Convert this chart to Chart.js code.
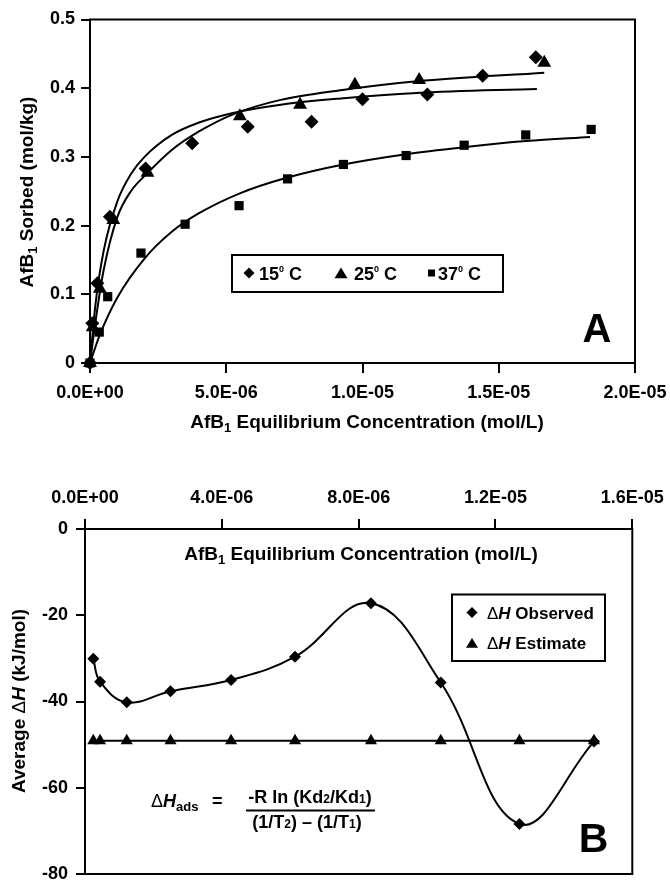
<!DOCTYPE html>
<html>
<head>
<meta charset="utf-8">
<script src="https://cdn.jsdelivr.net/npm/chart.js@4.4.1/dist/chart.umd.min.js"></script>
<style>
  html, body { margin: 0; padding: 0; background: #fff; overflow: hidden; }
  body { width: 670px; height: 880px; position: relative; }
  canvas { position: absolute; left: 0; }
  #chartA { top: 0; }
  #chartB { top: 440px; }
</style>
</head>
<body>
<canvas id="chartA" width="670" height="440"></canvas>
<canvas id="chartB" width="670" height="450"></canvas>
<script>
// ---- Panel A: sorption isotherms ----
const concA15 = [0, 0.085e-6, 0.27e-6, 0.73e-6, 2.04e-6, 3.75e-6, 5.79e-6, 8.13e-6, 1.00e-5, 1.238e-5, 1.441e-5, 1.636e-5];
const sorbA15 = [0, 0.058, 0.116, 0.213, 0.283, 0.320, 0.344, 0.351, 0.384, 0.391, 0.418, 0.445];
const concA25 = [0, 0.10e-6, 0.36e-6, 0.855e-6, 2.11e-6, 5.5e-6, 7.71e-6, 9.72e-6, 1.208e-5, 1.667e-5];
const sorbA25 = [0, 0.052, 0.108, 0.208, 0.277, 0.359, 0.376, 0.405, 0.412, 0.437];
const concA37 = [0, 0.34e-6, 0.65e-6, 1.87e-6, 3.49e-6, 5.47e-6, 7.25e-6, 9.3e-6, 1.16e-5, 1.373e-5, 1.599e-5, 1.839e-5];
const sorbA37 = [0, 0.045, 0.0965, 0.160, 0.202, 0.229, 0.268, 0.289, 0.302, 0.317, 0.332, 0.340];

// fitted curves
const fitConc15 = [0, 0.2e-6, 0.5e-6, 1.0e-6, 1.5e-6, 2.0e-6, 3.0e-6, 4.0e-6, 5.25e-6, 7.0e-6, 9.2e-6, 1.2e-5, 1.64e-5];
const fitSorb15 = [0, 0.085, 0.163, 0.235, 0.275, 0.300, 0.332, 0.350, 0.364, 0.376, 0.385, 0.393, 0.399];
const fitConc25 = [0, 0.2e-6, 0.5e-6, 1.0e-6, 1.5e-6, 2.1e-6, 3.0e-6, 4.0e-6, 5.25e-6, 7.0e-6, 9.2e-6, 1.2e-5, 1.667e-5];
const fitSorb25 = [0, 0.060, 0.135, 0.212, 0.250, 0.276, 0.310, 0.337, 0.362, 0.383, 0.397, 0.410, 0.4226];
const fitConc37 = [0, 0.35e-6, 1.0e-6, 2.0e-6, 3.0e-6, 4.0e-6, 5.5e-6, 7.25e-6, 9.3e-6, 1.16e-5, 1.37e-5, 1.6e-5, 1.835e-5];
const fitSorb37 = [0, 0.040, 0.095, 0.152, 0.191, 0.218, 0.247, 0.270, 0.289, 0.304, 0.314, 0.323, 0.329];

const xTicksA = [0, 5e-6, 1e-5, 1.5e-5, 2e-5];
const yTicksA = [0, 0.1, 0.2, 0.3, 0.4, 0.5];

// ---- Panel B: average enthalpy ----
const concB = [0.243e-6, 0.44e-6, 1.22e-6, 2.5e-6, 4.27e-6, 6.14e-6, 8.36e-6, 1.04e-5, 1.27e-5, 1.488e-5];
const dhObserved = [-30.1, -35.4, -40.2, -37.6, -35.0, -29.6, -17.2, -35.6, -68.4, -49.3];
const dhEstimate = [-49.1, -49.1, -49.1, -49.1, -49.1, -49.1, -49.1, -49.1, -49.1, -49.1];

const xTicksB = [0, 4e-6, 8e-6, 1.2e-5, 1.6e-5];
const yTicksB = [0, -20, -40, -60, -80];

const FAMILY = '"Liberation Sans", Arial, Helvetica, sans-serif';
Chart.defaults.font.family = FAMILY;
Chart.defaults.color = '#000';

function font(size, bold, italic) {
    return (italic ? 'italic ' : '') + (bold === false ? '' : 'bold ') + size + 'px ' + FAMILY;
}

function sci(v) {
    const parts = v.toExponential(1).split('e');
    const n = parseInt(parts[1], 10);
    return parts[0] + 'E' + (n < 0 ? '-' : '+') + String(Math.abs(n)).padStart(2, '0');
}

function pts(xs, ys) {
    return xs.map((x, i) => ({ x: x, y: ys[i] }));
}

// text made of pieces (for subscripts, italics...)
function drawRich(ctx, parts, x, y, align) {
    let w = 0;
    parts.forEach(p => {
        ctx.font = font(p.size, p.bold, p.italic);
        p.w = ctx.measureText(p.t).width;
        w += p.w;
    });
    let cx = align === 'center' ? x - w / 2 : (align === 'right' ? x - w : x);
    ctx.textAlign = 'left';
    ctx.textBaseline = 'alphabetic';
    parts.forEach(p => {
        ctx.font = font(p.size, p.bold, p.italic);
        ctx.fillText(p.t, cx, y + (p.dy || 0));
        cx += p.w;
    });
}

function marker(ctx, style, x, y, s) {
    ctx.beginPath();
    if (style === 'diamond') {
        ctx.moveTo(x, y - s); ctx.lineTo(x + s, y); ctx.lineTo(x, y + s); ctx.lineTo(x - s, y);
    } else if (style === 'triangle') {
        ctx.moveTo(x, y - s * 0.85); ctx.lineTo(x + s, y + s * 0.8); ctx.lineTo(x - s, y + s * 0.8);
    } else {
        ctx.rect(x - s, y - s, 2 * s, 2 * s);
    }
    ctx.closePath();
    ctx.fill();
}

const frame = {
    id: 'frame',
    beforeDatasetsDraw(chart) {
        const { ctx, chartArea: a } = chart;
        ctx.save();
        ctx.strokeStyle = '#000';
        ctx.lineWidth = 2;
        ctx.strokeRect(a.left, a.top, a.right - a.left, a.bottom - a.top);
        ctx.restore();
    }
};

const annotA = {
    id: 'annotA',
    afterDraw(chart) {
        const ctx = chart.ctx;
        ctx.save();
        ctx.fillStyle = '#000';
        ctx.strokeStyle = '#000';

        drawRich(ctx, [{ t: 'AfB', size: 19 }, { t: '1', size: 13, dy: 4 },
            { t: ' Equilibrium Concentration (mol/L)', size: 19 }], 367, 428, 'center');

        ctx.save();
        ctx.translate(33, 192);
        ctx.rotate(-Math.PI / 2);
        drawRich(ctx, [{ t: 'AfB', size: 19 }, { t: '1', size: 13, dy: 4 },
            { t: ' Sorbed (mol/kg)', size: 19 }], 0, 0, 'center');
        ctx.restore();

        // legend
        ctx.lineWidth = 2;
        ctx.strokeRect(232, 255, 271, 37);
        const labels = ['15', '25', '37'];
        const styles = ['diamond', 'triangle', 'square'];
        const mx = [249, 341, 431.5];
        const ms = [5.5, 6.5, 3.5];
        const tx = [259, 354, 438];
        labels.forEach((l, i) => {
            marker(ctx, styles[i], mx[i], 273, ms[i]);
            drawRich(ctx, [{ t: l, size: 18 }, { t: '0', size: 9, dy: -8 }, { t: ' C', size: 18 }], tx[i], 280, 'left');
        });

        ctx.font = font(40);
        ctx.textAlign = 'center';
        ctx.fillText('A', 597, 341.5);
        ctx.restore();
    }
};

const annotB = {
    id: 'annotB',
    afterDraw(chart) {
        const ctx = chart.ctx;
        ctx.save();
        ctx.translate(0, -440); // page coordinates
        ctx.fillStyle = '#000';
        ctx.strokeStyle = '#000';

        drawRich(ctx, [{ t: 'AfB', size: 19 }, { t: '1', size: 13, dy: 4 },
            { t: ' Equilibrium Concentration (mol/L)', size: 19 }], 361, 560, 'center');

        ctx.save();
        ctx.translate(25, 701);
        ctx.rotate(-Math.PI / 2);
        drawRich(ctx, [{ t: 'Average ', size: 19 }, { t: '\u0394', size: 19, bold: false },
            { t: 'H', size: 19, italic: true }, { t: ' (kJ/mol)', size: 19 }], 0, 0, 'center');
        ctx.restore();

        // legend
        ctx.lineWidth = 2;
        ctx.strokeRect(452, 594.5, 153, 66.5);
        marker(ctx, 'diamond', 472, 612.5, 5.5);
        marker(ctx, 'triangle', 472, 643, 6);
        drawRich(ctx, [{ t: '\u0394', size: 17, bold: false }, { t: 'H', size: 17, italic: true },
            { t: ' Observed', size: 17 }], 487, 619, 'left');
        drawRich(ctx, [{ t: '\u0394', size: 17, bold: false }, { t: 'H', size: 17, italic: true },
            { t: ' Estimate', size: 17 }], 487, 649, 'left');

        // formula
        drawRich(ctx, [{ t: '\u0394', size: 18, bold: false }, { t: 'H', size: 18, italic: true },
            { t: 'ads', size: 13, dy: 4 }], 151, 807, 'left');
        drawRich(ctx, [{ t: '=', size: 18 }], 212, 807, 'left');
        drawRich(ctx, [{ t: '-R ln (Kd', size: 18 }, { t: '2', size: 12 }, { t: '/Kd', size: 18 },
            { t: '1', size: 12 }, { t: ')', size: 18 }], 310, 803, 'center');
        ctx.lineWidth = 2;
        ctx.beginPath();
        ctx.moveTo(246, 810.5);
        ctx.lineTo(375, 810.5);
        ctx.stroke();
        drawRich(ctx, [{ t: '(1/T', size: 18 }, { t: '2', size: 12 }, { t: ') \u2013 (1/T', size: 18 },
            { t: '1', size: 12 }, { t: ')', size: 18 }], 307, 828, 'center');

        ctx.font = font(41);
        ctx.textAlign = 'center';
        ctx.fillText('B', 593.5, 852);
        ctx.restore();
    }
};

function axis(opts) {
    return {
        type: 'linear',
        min: opts.min,
        max: opts.max,
        position: opts.position,
        afterBuildTicks: s => { s.ticks = opts.ticks.map(v => ({ value: v })); },
        afterFit: s => {
            if (opts.width) s.width = opts.width;
            if (opts.height) s.height = opts.height;
            // keep edge labels from shrinking the plot area
            s.paddingLeft = 0; s.paddingRight = 0;
            s.paddingTop = 0; s.paddingBottom = 0;
        },
        grid: { drawOnChartArea: false, drawTicks: true, tickLength: opts.tickLength, color: '#000', lineWidth: 2 },
        border: { display: true, color: '#000', width: 2 },
        ticks: {
            color: '#000',
            font: { family: FAMILY, size: 18, weight: 'bold' },
            padding: opts.padding,
            maxRotation: 0,
            autoSkip: false,
            callback: opts.format
        }
    };
}

const lineDs = (xs, ys) => ({
    data: pts(xs, ys), showLine: true, pointRadius: 0, borderColor: '#000', borderWidth: 2,
    tension: 0.4, cubicInterpolationMode: 'monotone', order: 2
});
const pointDs = (xs, ys, style, r) => ({
    data: pts(xs, ys), showLine: false, pointStyle: style, pointRadius: r,
    pointBackgroundColor: '#000', pointBorderColor: '#000', pointBorderWidth: 0, clip: false, order: 1
});

new Chart(document.getElementById('chartA'), {
    type: 'scatter',
    data: {
        datasets: [
            lineDs(fitConc15, fitSorb15),
            lineDs(fitConc25, fitSorb25),
            lineDs(fitConc37, fitSorb37),
            pointDs(concA15, sorbA15, 'rectRot', 7),
            pointDs(concA25, sorbA25, 'triangle', 8),
            pointDs(concA37, sorbA37, 'rect', 6.5)
        ]
    },
    options: {
        responsive: false,
        animation: false,
        layout: { padding: { left: 0, top: 19.5, right: 35, bottom: 0 } },
        plugins: { legend: { display: false }, tooltip: { enabled: false } },
        scales: {
            x: axis({ min: 0, max: 2e-5, position: 'bottom', ticks: xTicksA, height: 77, tickLength: 10, padding: 9, format: v => sci(v) }),
            y: axis({ min: 0, max: 0.5, position: 'left', ticks: yTicksA, width: 90, tickLength: 9, padding: 6, format: v => v === 0 ? '0' : v.toFixed(1) })
        }
    },
    plugins: [frame, annotA]
});

new Chart(document.getElementById('chartB'), {
    type: 'scatter',
    data: {
        datasets: [
            {
                data: pts(concB, dhObserved), showLine: true, borderColor: '#000', borderWidth: 2, tension: 0.4,
                pointStyle: 'rectRot', pointRadius: 6, pointBackgroundColor: '#000', pointBorderWidth: 0, clip: false
            },
            {
                data: pts(concB, dhEstimate), showLine: true, borderColor: '#000', borderWidth: 2, tension: 0,
                pointStyle: 'triangle', pointRadius: 7, pointBackgroundColor: '#000', pointBorderWidth: 0, clip: false
            }
        ]
    },
    options: {
        responsive: false,
        animation: false,
        layout: { padding: { left: 0, top: 0, right: 37.7, bottom: 16 } },
        plugins: { legend: { display: false }, tooltip: { enabled: false } },
        scales: {
            x: axis({ min: 0, max: 1.6e-5, position: 'top', ticks: xTicksB, height: 89, tickLength: 10, padding: 10, format: v => sci(v) }),
            y: axis({ min: -80, max: 0, position: 'left', ticks: yTicksB, width: 85, tickLength: 9, padding: 8, format: v => String(v) })
        }
    },
    plugins: [frame, annotB]
});
</script>
</body>
</html>
